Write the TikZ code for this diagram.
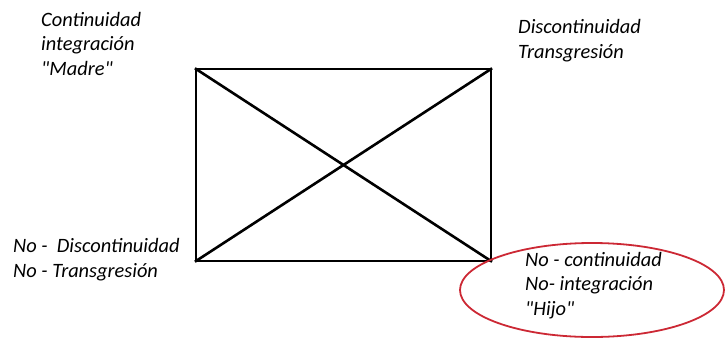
\documentclass[tikz,border=0pt]{standalone}
\usepackage{fontspec}
\setmainfont{Carlito}[Ligatures=TeXOff]
\usetikzlibrary{calc}
\tikzstyle{lbl}=[anchor=base west, align=left, inner sep=0, font=\itshape\fontsize{20.4}{24.5}\selectfont]
\tikzstyle{vx}=[coordinate]
\tikzstyle{edge}=[line width=2.6pt, line cap=rect]
\definecolor{marca}{RGB}{204,40,52}

\begin{document}
\begin{tikzpicture}[x=1pt, y=-1pt]
\useasboundingbox (0,0) rectangle (725,343);
\node at (196,69)[vx](a){};
\node at (491,69)[vx](b){};
\node at (491,261)[vx](c){};
\node at (196,261)[vx](d){};
\draw[edge] (a)--(b)--(c)--(d)--cycle;
\draw[edge] (a)--(c);
\draw[edge] (d)--(b);
% labels: anchor is the baseline of the last line
\node at (41,75)[lbl](madre){Continuidad\\integración\\"Madre"};
\node at (518,58)[lbl](trans){Discontinuidad\\Transgresión};
\node at (13,277)[lbl](nodis){No -\ \ Discontinuidad\\No - Transgresión};
\node at (525,315)[lbl](hijo){No - continuidad\\No- integración\\"Hijo"};
\node at (592,290)[vx](h){};
\draw[marca, line width=1.8pt] (h) ellipse (132 and 47);
\end{tikzpicture}
\end{document}
